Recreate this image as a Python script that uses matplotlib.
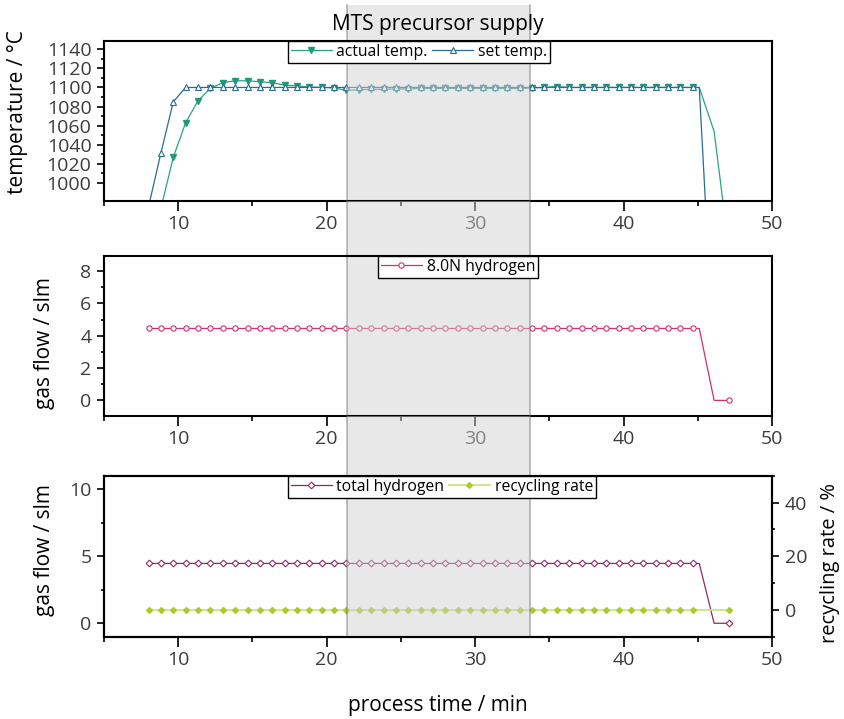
import matplotlib.pyplot as plt
import matplotlib.transforms as mtransforms
from matplotlib.patches import Rectangle
from matplotlib.ticker import MultipleLocator, FixedLocator

plt.rcParams['font.family'] = ['Open Sans', 'DejaVu Sans']

# process time / min (one point every ~50 s, last three points at ramp-down)
time = [8.0, 8.83, 9.67, 10.5, 11.33, 12.17, 13.0, 13.83, 14.67, 15.5,
        16.33, 17.17, 18.0, 18.83, 19.67, 20.5, 21.33, 22.17, 23.0, 23.83,
        24.67, 25.5, 26.33, 27.17, 28.0, 28.83, 29.67, 30.5, 31.33, 32.17,
        33.0, 33.83, 34.67, 35.5, 36.33, 37.17, 38.0, 38.83, 39.67, 40.5,
        41.33, 42.17, 43.0, 43.83, 44.67, 45.1, 46.1, 47.1]

# temperature / degC
t_actual = [930, 973, 1027, 1063, 1086, 1099, 1105, 1107, 1107, 1106,
            1105, 1102.5, 1101.5, 1100.5, 1100, 1099.5, 1097, 1097.5, 1098, 1098,
            1098.5, 1098.5, 1099, 1099, 1099, 1099, 1099, 1099, 1099, 1099,
            1099, 1099.5, 1100, 1101, 1100, 1100, 1100, 1100, 1100, 1100,
            1100, 1100, 1100, 1100, 1100, 1100, 1054, 930]
t_set = [975, 1031, 1085, 1100, 1100, 1100, 1100, 1100, 1100, 1100,
         1100, 1100, 1100, 1100, 1100, 1100, 1100, 1100, 1100, 1100,
         1100, 1100, 1100, 1100, 1100, 1100, 1100, 1100, 1100, 1100,
         1100, 1100, 1100, 1100, 1100, 1100, 1100, 1100, 1100, 1100,
         1100, 1100, 1100, 1100, 1100, 1100, 810, 700]

# gas flows / slm and recycling rate / %
h2_80n = [4.45] * 46 + [0, 0]
h2_total = [4.46] * 46 + [0, 0]
recycling = [0] * 48

mark_temp = list(range(45))
mark_flow = list(range(45)) + [47]

shade_x = (21.4, 33.7)

fig = plt.figure(figsize=(8.44, 7.19), dpi=100)
L, W = 0.1232, 0.7915
ax1 = fig.add_axes([L, 0.7204, W, 0.2230])
ax2 = fig.add_axes([L, 0.4218, W, 0.2225])
ax3 = fig.add_axes([L, 0.1145, W, 0.2239])
ax3r = ax3.twinx()

tick_col = '#3c3c3c'


def style(ax):
    ax.xaxis.set_major_locator(MultipleLocator(10))
    ax.xaxis.set_minor_locator(MultipleLocator(5))
    ax.tick_params(axis='x', which='major', length=7, width=1.2, pad=3,
                   labelsize=14, labelcolor=tick_col)
    ax.tick_params(axis='x', which='minor', length=3.5, width=1.2)
    ax.tick_params(axis='y', which='major', length=5, width=1.2, pad=4,
                   labelsize=14, labelcolor=tick_col)
    ax.tick_params(axis='y', which='minor', length=2.5, width=1.2)
    for sp in ax.spines.values():
        sp.set_linewidth(1.5)


def shade(ax, top):
    tr = mtransforms.blended_transform_factory(ax.transData, ax.transAxes)
    ax.add_patch(Rectangle((shade_x[0], 0), shade_x[1] - shade_x[0], top,
                           transform=tr, facecolor='#d0d0d0', edgecolor='none',
                           alpha=0.48, zorder=2.4, clip_on=False))
    for x in shade_x:
        ax.plot([x, x], [0, top], transform=tr, color='#6e6e6e', alpha=0.5,
                lw=1.2, zorder=2.4, clip_on=False)


def leg(ax, handles, x0):
    lg = ax.legend(handles=handles, ncol=2, loc='upper left',
                   bbox_to_anchor=(x0, 1.0), borderaxespad=0, fancybox=False,
                   edgecolor='black', framealpha=1, fontsize=11.3,
                   handlelength=2.6, handletextpad=0.3, columnspacing=0.3,
                   borderpad=0.2)
    lg.get_frame().set_linewidth(1.0)
    return lg


# top: temperatures
l_act, = ax1.plot(time, t_actual, color='#2aa383', lw=0.9, marker='v', ms=4.2,
                  markevery=mark_temp, mfc='#1f9a78', mec='#1f9a78',
                  label='actual temp.')
l_set, = ax1.plot(time, t_set, color='#2b6b92', lw=0.9, marker='^', ms=4.2,
                  markevery=mark_temp, mfc='white', mec='#2b6b92', mew=0.8,
                  label='set temp.')
ax1.set_title('MTS precursor supply', fontsize=15, pad=8)
ax1.set_ylabel('temperature / °C', fontsize=15)
style(ax1)
ax1.yaxis.set_major_locator(FixedLocator(list(range(1000, 1141, 20))))
ax1.yaxis.set_minor_locator(FixedLocator(list(range(1010, 1140, 20))))
leg(ax1, [l_act, l_set], 0.275)

# middle: 8.0N hydrogen
l_h2, = ax2.plot(time, h2_80n, color='#d2306f', lw=0.9, marker='o', ms=3.8,
                 markevery=mark_flow, mfc='white', mec='#d2306f', mew=0.8,
                 label='8.0N hydrogen')
ax2.set_ylabel('gas flow / slm', fontsize=15)
style(ax2)
ax2.yaxis.set_major_locator(MultipleLocator(2))
ax2.yaxis.set_minor_locator(MultipleLocator(1))
leg(ax2, [l_h2], 0.41)

# bottom: total hydrogen + recycling rate
l_tot, = ax3.plot(time, h2_total, color='#8c2b60', lw=0.9, marker='D', ms=3.4,
                  markevery=mark_flow, mfc='white', mec='#8c2b60', mew=0.8,
                  label='total hydrogen')
l_rec, = ax3r.plot(time, recycling, color='#c6e07a', lw=1.2, marker='D', ms=3.0,
                   markevery=mark_flow, mfc='#a8cc2c', mec='#a8cc2c',
                   label='recycling rate')
ax3.set_ylabel('gas flow / slm', fontsize=15)
ax3r.set_ylabel('recycling rate / %', fontsize=14.5)
style(ax3)
style(ax3r)
ax3.yaxis.set_major_locator(MultipleLocator(5))
ax3.yaxis.set_minor_locator(MultipleLocator(2.5))
ax3r.yaxis.set_major_locator(MultipleLocator(20))
ax3r.yaxis.set_minor_locator(MultipleLocator(10))
leg(ax3r, [l_tot, l_rec], 0.275)

# grey highlighted time window across all panels
p1, p2, p3 = ax1.get_position(), ax2.get_position(), ax3.get_position()
shade(ax1, (0.993 - p1.y0) / p1.height)
shade(ax2, (p1.y0 - p2.y0) / p2.height)
shade(ax3r, (p2.y0 - p3.y0) / p3.height)

for ax in (ax1, ax2, ax3, ax3r):
    ax.set_xlim(5, 50)
ax1.set_ylim(981, 1149)
ax2.set_ylim(-0.95, 8.95)
ax3.set_ylim(-1, 11)
ax3r.set_ylim(-10, 50)

ax1.yaxis.set_label_coords(-0.114, 0.555)
ax2.yaxis.set_label_coords(-0.073, 0.457)
ax3.yaxis.set_label_coords(-0.073, 0.538)
ax3r.yaxis.set_label_coords(1.072, 0.46)

fig.text(0.5185, 0.011, 'process time / min', fontsize=15, ha='center',
         va='baseline')

fig.savefig('out.png', dpi=100)
